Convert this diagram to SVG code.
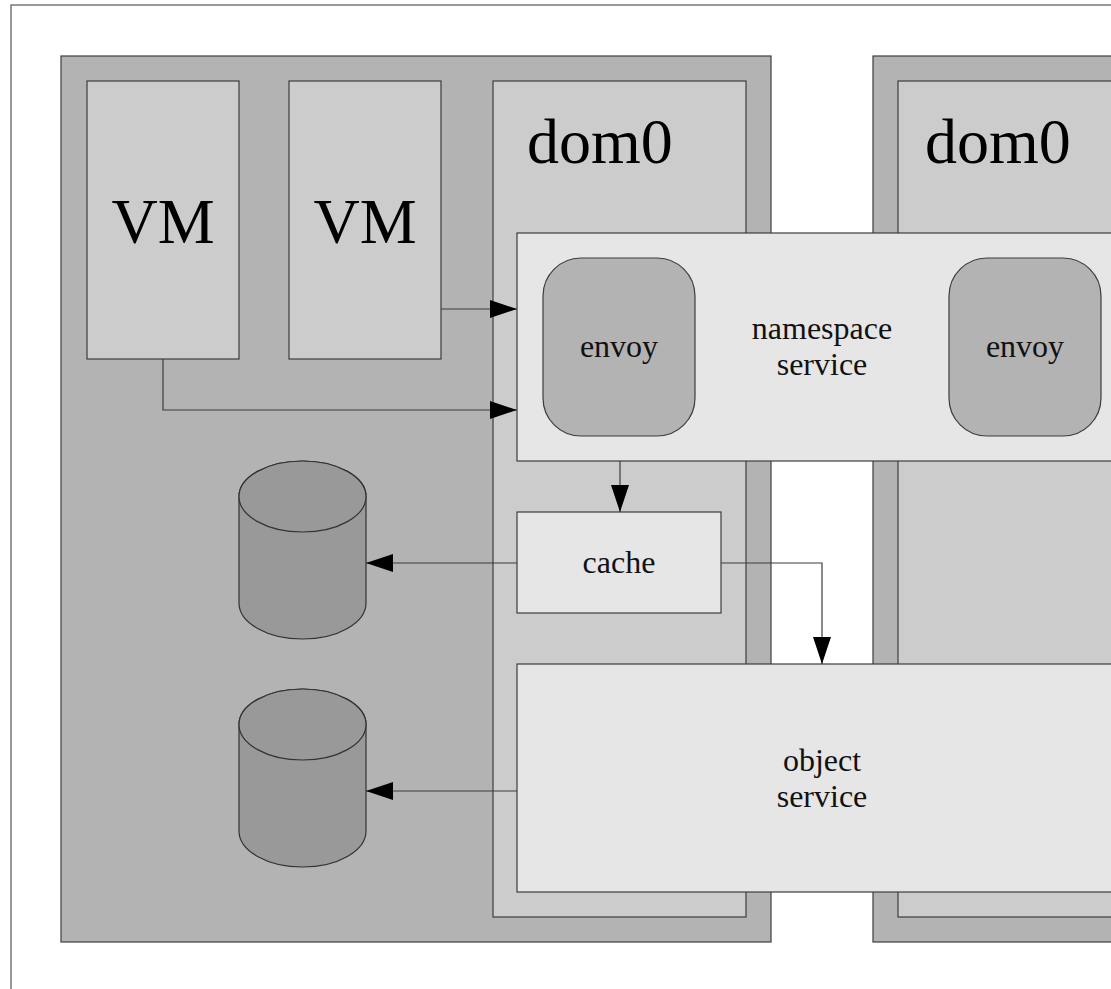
<svg xmlns="http://www.w3.org/2000/svg" width="1111" height="989" viewBox="0 0 1111 989">
<style>
.host{fill:#b3b3b3;stroke:#3c3c3c;stroke-width:1.2}
.inner{fill:#cccccc;stroke:#3c3c3c;stroke-width:1.2}
.svc{fill:#e6e6e6;stroke:#3c3c3c;stroke-width:1.2}
.envoy{fill:#b3b3b3;stroke:#3c3c3c;stroke-width:1.2}
.db{fill:#999999;stroke:#333333;stroke-width:1.2}
.big{font-family:"Liberation Serif",serif;font-size:64px;fill:#000}
.small{font-family:"Liberation Serif",serif;font-size:32px;fill:#111;text-anchor:middle}
.conn{fill:none;stroke:#3c3c3c;stroke-width:1.2}
</style>
<defs>
<marker id="arr" markerUnits="userSpaceOnUse" markerWidth="28" markerHeight="20" refX="27" refY="9" orient="auto">
<path d="M0,0 L27,9 L0,18 z" fill="#000"/>
</marker>
</defs>
<rect x="0" y="0" width="1111" height="989" fill="#fff"/>
<rect id="frame" x="11" y="5" width="1120" height="1000" fill="none" stroke="#555" stroke-width="1.2"/>
<g id="host1"><rect class="host" x="61" y="56" width="710" height="886"/></g>
<g id="host2"><rect class="host" x="873" y="56" width="260" height="886"/></g>
<g id="vm1"><rect class="inner" x="87" y="81" width="152" height="278"/><text class="big" x="163" y="243" text-anchor="middle">VM</text></g>
<g id="vm2"><rect class="inner" x="289" y="81" width="152" height="278"/><text class="big" x="365" y="243" text-anchor="middle">VM</text></g>
<g id="dom0a"><rect class="inner" x="493" y="81" width="253" height="836"/><text class="big" x="527" y="163">dom0</text></g>
<g id="dom0b"><rect class="inner" x="898" y="81" width="240" height="836"/><text class="big" x="925" y="163">dom0</text></g>
<g id="namespace"><rect class="svc" x="517" y="233" width="609" height="228"/><text class="small" x="822" y="339">namespace</text><text class="small" x="822" y="375">service</text></g>
<g id="envoy1"><rect class="envoy" x="543" y="258" width="152" height="178" rx="38" ry="38"/><text class="small" x="619" y="357">envoy</text></g>
<g id="envoy2"><rect class="envoy" x="949" y="258" width="152" height="178" rx="38" ry="38"/><text class="small" x="1025" y="357">envoy</text></g>
<g id="cache"><rect class="svc" x="517" y="512" width="204" height="101"/><text class="small" x="619" y="573">cache</text></g>
<g id="object"><rect class="svc" x="517" y="664" width="609" height="228"/><text class="small" x="822" y="771">object</text><text class="small" x="822" y="807">service</text></g>
<g id="db1"><path class="db" d="M239,496.5 L239,603 A63.5,36 0 0 0 366,603 L366,496.5 A63.5,35.5 0 0 0 239,496.5 Z"/><ellipse class="db" cx="302.5" cy="496.5" rx="63.5" ry="35.5"/></g>
<g id="db2"><path class="db" d="M239,724.5 L239,831 A63.5,36 0 0 0 366,831 L366,724.5 A63.5,35.5 0 0 0 239,724.5 Z"/><ellipse class="db" cx="302.5" cy="724.5" rx="63.5" ry="35.5"/></g>
<g id="connectors">
<path class="conn" d="M441,309 L517,309" marker-end="url(#arr)"/>
<path class="conn" d="M163,359 L163,410 L517,410" marker-end="url(#arr)"/>
<path class="conn" d="M620,461 L620,512" marker-end="url(#arr)"/>
<path class="conn" d="M517,563 L366,563" marker-end="url(#arr)"/>
<path class="conn" d="M721,563 L822,563 L822,664" marker-end="url(#arr)"/>
<path class="conn" d="M517,791 L366,791" marker-end="url(#arr)"/>
</g>
</svg>
